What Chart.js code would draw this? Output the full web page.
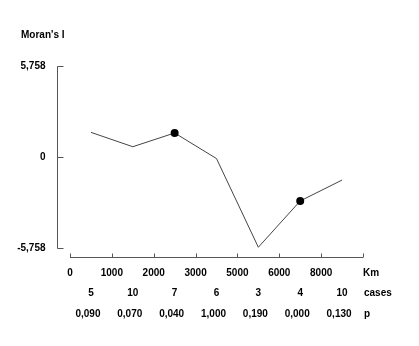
<!DOCTYPE html>
<html>
<head>
<meta charset="utf-8">
<script src="https://cdn.jsdelivr.net/npm/chart.js@4.4.1/dist/chart.umd.min.js"></script>
<style>
  html, body { margin: 0; padding: 0; background: #fff; }
  #wrap { width: 419px; height: 346px; position: relative; }
</style>
</head>
<body>
<div id="wrap"><canvas id="c" width="419" height="346"></canvas></div>
<script>
// Distance classes (Km), correlogram values and per-class statistics
const distanceTicks = ['0', '1000', '2000', '3000', '5000', '6000', '8000'];
const moransI = [1.56, 0.65, 1.52, -0.10, -5.71, -2.78, -1.46];
const cases = ['5', '10', '7', '6', '3', '4', '10'];
const pValues = ['0,090', '0,070', '0,040', '1,000', '0,190', '0,000', '0,130'];
const yTickValues = [5.758, 0, -5.758];
const yTickLabels = ['5,758', '0', '-5,758'];

const FONT = 'bold 10px "Liberation Sans", Arial, sans-serif';
const AXIS_COLOR = '#555';

// significant classes (p <= 0.05) get a filled marker
const pointRadii = pValues.map(p => parseFloat(p.replace(',', '.')) <= 0.05 ? 4 : 0);

const points = moransI.map((v, i) => ({ x: i + 0.5, y: v }));

const axesPlugin = {
  id: 'detachedAxes',
  afterDraw(chart) {
    const { ctx, chartArea, scales } = chart;
    const xs = scales.x, ys = scales.y;
    ctx.save();
    ctx.strokeStyle = AXIS_COLOR;
    ctx.lineWidth = 1;
    ctx.fillStyle = '#000';
    ctx.font = FONT;

    // y axis, set off to the left of the plotting region
    const ax = Math.round(chartArea.left - 13) + 0.5;
    const yTop = Math.round(ys.getPixelForValue(ys.max)) + 0.5;
    const yBot = Math.round(ys.getPixelForValue(ys.min)) + 0.5;
    ctx.beginPath();
    ctx.moveTo(ax, yTop); ctx.lineTo(ax, yBot);
    yTickValues.forEach(v => {
      const py = Math.round(ys.getPixelForValue(v)) + 0.5;
      ctx.moveTo(ax, py); ctx.lineTo(ax + 6, py);
    });
    ctx.stroke();
    ctx.textAlign = 'right';
    ctx.textBaseline = 'middle';
    yTickValues.forEach((v, i) => {
      ctx.fillText(yTickLabels[i], ax - 12, ys.getPixelForValue(v));
    });

    // axis title
    ctx.textAlign = 'left';
    ctx.fillText("Moran's I", 21, 35);

    // x axis, set off below the plotting region
    const bx = Math.round(chartArea.bottom + 9) + 0.5;
    ctx.beginPath();
    ctx.moveTo(xs.getPixelForValue(xs.min), bx);
    ctx.lineTo(xs.getPixelForValue(xs.max), bx);
    for (let k = xs.min; k <= xs.max; k++) {
      const px = Math.round(xs.getPixelForValue(k)) + 0.5;
      ctx.moveTo(px, bx); ctx.lineTo(px, bx - 4);
    }
    ctx.stroke();

    const row1 = bx + 16, row2 = bx + 36, row3 = bx + 57;
    ctx.textAlign = 'center';
    distanceTicks.forEach((t, k) => ctx.fillText(t, xs.getPixelForValue(k), row1));
    cases.forEach((t, i) => ctx.fillText(t, xs.getPixelForValue(i + 0.5), row2));
    pValues.forEach((t, i) => ctx.fillText(t, xs.getPixelForValue(i + 0.5) - 3, row3));

    ctx.textAlign = 'left';
    const rx = xs.getPixelForValue(xs.max);
    ctx.fillText('Km', rx, row1);
    ctx.fillText('cases', rx + 1, row2);
    ctx.fillText('p', rx + 1, row3);
    ctx.restore();
  }
};

new Chart(document.getElementById('c'), {
  type: 'line',
  data: {
    datasets: [{
      data: points,
      borderColor: '#444',
      borderWidth: 1,
      tension: 0,
      fill: false,
      pointRadius: pointRadii,
      pointHoverRadius: pointRadii,
      pointBackgroundColor: '#000',
      pointBorderColor: '#000',
      pointBorderWidth: 0,
      clip: false
    }]
  },
  options: {
    responsive: false,
    animation: false,
    devicePixelRatio: 1,
    layout: { padding: { left: 70, right: 56, top: 66, bottom: 98 } },
    plugins: { legend: { display: false }, tooltip: { enabled: false } },
    scales: {
      x: { type: 'linear', min: 0, max: 7, display: false },
      y: { type: 'linear', min: -5.758, max: 5.758, display: false }
    }
  },
  plugins: [axesPlugin]
});
</script>
</body>
</html>
